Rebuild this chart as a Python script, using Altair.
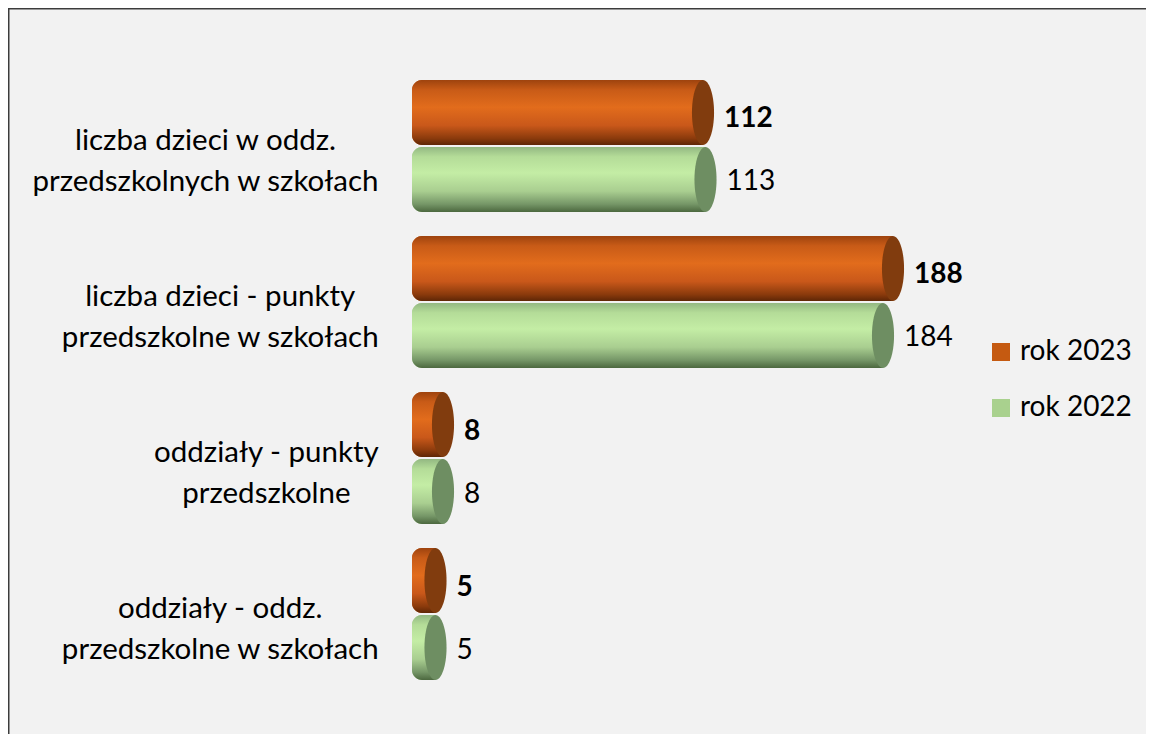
import altair as alt
import pandas as pd

# ---- data ----
categories = [
    "liczba dzieci w oddz.\nprzedszkolnych w szkołach",
    "liczba dzieci - punkty\nprzedszkolne w szkołach",
    "oddziały - punkty\nprzedszkolne",
    "oddziały - oddz.\nprzedszkolne w szkołach",
]
series = ["rok 2023", "rok 2022"]
values_2023 = [112, 188, 8, 5]
values_2022 = [113, 184, 8, 5]

rows = []
for c, v in zip(categories, values_2023):
    rows.append({"category": c, "series": "rok 2023", "value": v})
for c, v in zip(categories, values_2022):
    rows.append({"category": c, "series": "rok 2022", "value": v})
df = pd.DataFrame(rows)

# ---- styling ----
FONT = "Lato"
LABEL_SIZE = 29.5
VALUE_SIZE = 28
legend_colors = ["#C55A11", "#A9D18E"]
cap_colors = {"rok 2023": "#813C0E", "rok 2022": "#6E8E62"}
grad = {
    "rok 2023": [("#9E430E", 0), ("#C85B17", 0.15), ("#E26C1C", 0.42),
                 ("#C9581A", 0.7), ("#8A3A0C", 0.9), ("#5E2606", 1)],
    "rok 2022": [("#93B882", 0), ("#B4DC98", 0.15), ("#C4EDA5", 0.4),
                 ("#A9CE90", 0.68), ("#759667", 0.88), ("#4C683F", 1)],
}

# rough Lato advance widths (em) to centre two-line labels
_w = {"a": .49, "b": .55, "c": .46, "d": .55, "e": .51, "h": .55, "i": .23,
      "k": .50, "l": .23, "n": .55, "o": .55, "p": .55, "r": .36, "s": .42,
      "t": .34, "u": .55, "w": .76, "y": .50, "z": .44, "ł": .26, " ": .26,
      ".": .22, "-": .35}


def text_w(s):
    return sum(_w.get(ch, .5) for ch in s) * LABEL_SIZE


RIGHT_EDGE = 368
cat_df = pd.DataFrame({
    "category": categories,
    "cx": [RIGHT_EDGE - max(text_w(l) for l in c.split("\n")) / 2 for c in categories],
})

W, H = 1138, 726
xscale = alt.Scale(domain=[-404 / 2.5, (W - 404) / 2.5], nice=False, zero=False)
yscale = alt.Scale(domain=categories, range=[72, 672], paddingInner=0.154, paddingOuter=0)
yoff_scale = alt.Scale(domain=series, paddingInner=0.03, paddingOuter=0)

X = alt.X("value:Q", scale=xscale, axis=None)
Y = alt.Y("category:N", scale=yscale, axis=None, sort=categories)
YO = alt.YOffset("series:N", scale=yoff_scale, sort=series)

base = alt.Chart(df)

legend_bars = base.mark_bar(
    xOffset=11, cornerRadiusTopLeft=10, cornerRadiusBottomLeft=10
).encode(
    x=X, x2=alt.datum(0), y=Y, yOffset=YO,
    color=alt.Color(
        "series:N",
        scale=alt.Scale(domain=series, range=legend_colors),
        legend=alt.Legend(
            orient="none", legendX=979, legendY=330, title=None,
            symbolType="square", symbolSize=324, symbolStrokeWidth=0,
            labelFont=FONT, labelFontSize=VALUE_SIZE, labelColor="black",
            labelOffset=5, rowPadding=28, padding=0,
        ),
    ),
)

layers = [legend_bars]
for s in series:
    sub = base.transform_filter(alt.datum.series == s)
    g = alt.LinearGradient(
        gradient="linear", x1=0, x2=0, y1=0, y2=1,
        stops=[alt.GradientStop(color=c, offset=o) for c, o in grad[s]],
    )
    layers.append(
        sub.mark_bar(xOffset=11, cornerRadiusTopLeft=10, cornerRadiusBottomLeft=10, color=g)
        .encode(x=X, x2=alt.datum(0), y=Y, yOffset=YO)
    )
    layers.append(
        sub.mark_point(
            shape="M0,-1 A0.34,1 0 1,1 0,1 A0.34,1 0 1,1 0,-1 Z",
            filled=True, size=65 * 65, xOffset=11, color=cap_colors[s],
            opacity=1, strokeWidth=0,
        ).encode(x=X, y=Y, yOffset=YO)
    )
    layers.append(
        sub.mark_text(
            align="left", baseline="middle", dx=32,
            dy=7 if s == "rok 2023" else 3,
            font=FONT, fontSize=VALUE_SIZE,
            fontWeight="bold" if s == "rok 2023" else "normal", color="black",
        ).encode(x=X, y=Y, yOffset=YO, text="value:Q")
    )

cat_labels = alt.Chart(cat_df).mark_text(
    align="center", baseline="middle", lineBreak="\n", lineHeight=41, dy=-5,
    font=FONT, fontSize=LABEL_SIZE, color="black",
).encode(
    x=alt.X("cx:Q", scale=None),
    y=alt.Y("category:N", scale=yscale, axis=None, sort=categories),
    text="category:N",
)
layers.append(cat_labels)

# frame lines (top and left edges of the chart area)
frame = pd.DataFrame({"edge": [0]})
layers.append(alt.Chart(frame).mark_rule(color="#3C3C3C", strokeWidth=3).encode(
    x=alt.value(0), x2=alt.value(W), y=alt.value(0)))
layers.append(alt.Chart(frame).mark_rule(color="#3C3C3C", strokeWidth=3).encode(
    x=alt.value(0), y=alt.value(0), y2=alt.value(H)))

chart = alt.layer(*layers).properties(
    width=W, height=H, padding=0,
    autosize=alt.AutoSizeParams(type="none"),
    background="#F2F2F2",
).configure_view(strokeWidth=0)

chart.save("out.html", embed_options={"renderer": "svg", "actions": False})
